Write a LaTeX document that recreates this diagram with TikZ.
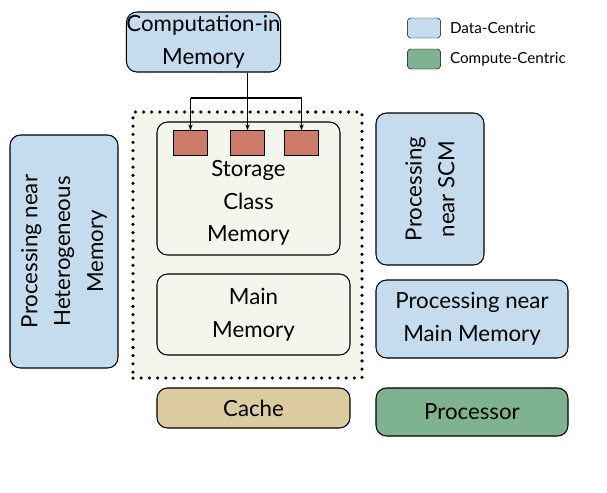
\documentclass[tikz,border=0pt]{standalone}
\usepackage{fontspec}
\setmainfont{Lato}
\usetikzlibrary{positioning}
\usetikzlibrary{arrows.meta}

\definecolor{datablue}{HTML}{C5DCEF}
\definecolor{compgreen}{HTML}{7FB28F}
\definecolor{memfill}{HTML}{F3F6EC}
\definecolor{cellred}{HTML}{CD7A66}
\definecolor{cachetan}{HTML}{DCCBA0}

\tikzset{
	bigtext/.style={font=\fontsize{19}{28}\selectfont},
	box/.style={draw,rounded corners=9pt,line width=0.9pt,align=center,
		bigtext,inner sep=0pt},
	data/.style={box,fill=datablue},
	cell/.style={draw,fill=cellred,minimum width=1.02cm,minimum height=0.75cm,inner sep=0pt},
	legend/.style={draw,fill=#1,rounded corners=3pt,minimum width=1.0cm,minimum height=0.6cm}
}

\begin{document}
\begin{tikzpicture}[x=0.03cm,y=-0.03cm]
	\useasboundingbox (0,0) rectangle (607,492);
	% memory stack
	\node [draw,line width=3pt,line cap=round,dash pattern=on 0pt off 7pt,fill=memfill,minimum width=6.87cm,minimum height=7.98cm] (stack) at (247.5,245) {};
	\node [box,fill=memfill,minimum width=5.49cm,minimum height=3.99cm] (scm) at (248.5,188.5) {};
	\node [bigtext,align=center] (scmtext) at (248.5,203) {Storage\\Class\\Memory};
	\node [box,fill=memfill,minimum width=5.79cm,minimum height=2.43cm] (main) at (253.5,314.5) {Main\\Memory};
	\node [box,fill=cachetan,minimum width=5.79cm,minimum height=1.2cm] (cache) at (253.5,408) {Cache};
	% cells
	\node [cell] (c1) at (190.5,143) {};
	\node [cell] (c2) at (247.5,143) {};
	\node [cell] (c3) at (301.5,143) {};
	% computation in memory
	\node [data,minimum width=4.59cm,minimum height=1.8cm] (cim) at (203.5,42) {Computation-in\\Memory};
	\coordinate (split) at (247.5,98);
	\draw [-{Stealth[length=5pt]},line width=0.9pt] (cim.south -| c2) -- (c2.north);
	\draw [-{Stealth[length=5pt]},line width=0.9pt] (split -| c1) -- (split -| c3) -- (c3.north);
	\draw [-{Stealth[length=5pt]},line width=0.9pt] (split -| c1) -- (c1.north);
	% near-memory processing
	\node [data,minimum width=3.24cm,minimum height=6.99cm] (hetero) at (64,251.5) {};
	\node [rotate=90,align=center,bigtext] at (hetero) {Processing near\\Heterogeneous\\Memory};
	\node [data,minimum width=3.24cm,minimum height=4.56cm] (nscm) at (430,189) {};
	\node [rotate=90,align=center,bigtext] at (nscm) {Processing\\near SCM};
	\node [data,minimum width=5.76cm,minimum height=2.34cm] (nmain) at (472,319) {Processing near\\Main Memory};
	\node [box,fill=compgreen,minimum width=5.76cm,minimum height=1.44cm] (proc) at (472,412) {Processor};
	% legend
	\node [legend=datablue] (ldata) at (424,28) {};
	\node [right=0.15cm of ldata,font=\fontsize{13}{15}\selectfont] {Data-Centric};
	\node [legend=compgreen] (lcomp) at (424,59) {};
	\node [right=0.15cm of lcomp,font=\fontsize{13}{15}\selectfont] {Compute-Centric};
\end{tikzpicture}
\end{document}
